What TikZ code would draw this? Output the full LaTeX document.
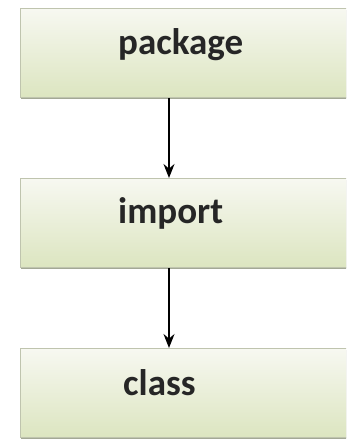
\documentclass[tikz,border=0pt]{standalone}
\usepackage{fontspec}
\setmainfont{Carlito}
\usetikzlibrary{arrows.meta}
\definecolor{boxtop}{HTML}{F7F8F1}
\definecolor{boxbot}{HTML}{DCE5C0}
\definecolor{boxline}{HTML}{BFC4AE}
\definecolor{shadowc}{HTML}{A3A895}
\tikzset{
  box/.style={rectangle, draw=boxline, line width=0.8pt, top color=boxtop, bottom color=boxbot,
    minimum width=340pt, minimum height=89pt, anchor=north west, inner sep=0pt},
  shadowbox/.style={rectangle, fill=shadowc, minimum width=340pt, minimum height=89pt, anchor=north west, inner sep=0pt},
  lbl/.style={anchor=west, font=\bfseries\fontsize{37}{42}\selectfont, text=black!85, inner sep=0pt},
  arr/.style={-{Stealth[length=14pt,width=11pt]}, line width=1.5pt, black}
}
\begin{document}
\begin{tikzpicture}[x=1pt,y=-1pt]
\useasboundingbox (0,0) rectangle (346,442);
\clip (0,0) rectangle (346,442);
\fill[white] (0,0) rectangle (346,442);
% shadows
\node[shadowbox] (ps) at (21,10) {};
\node[shadowbox] (is) at (21,180) {};
\node[shadowbox] (cs) at (21,350) {};
% boxes
\node[box] (p) at (20,8) {};
\node[box] (i) at (20,178) {};
\node[box] (c) at (20,348) {};
% labels
\node[lbl] (pl) at (118,45) {package};
\node[lbl] (il) at (118,213) {import};
\node[lbl] (cl) at (123,383) {class};
% arrows
\coordinate (ax) at (169,0);
\draw[arr] (p.south -| ax) -- (i.north -| ax);
\draw[arr] (i.south -| ax) -- (c.north -| ax);
\end{tikzpicture}
\end{document}
